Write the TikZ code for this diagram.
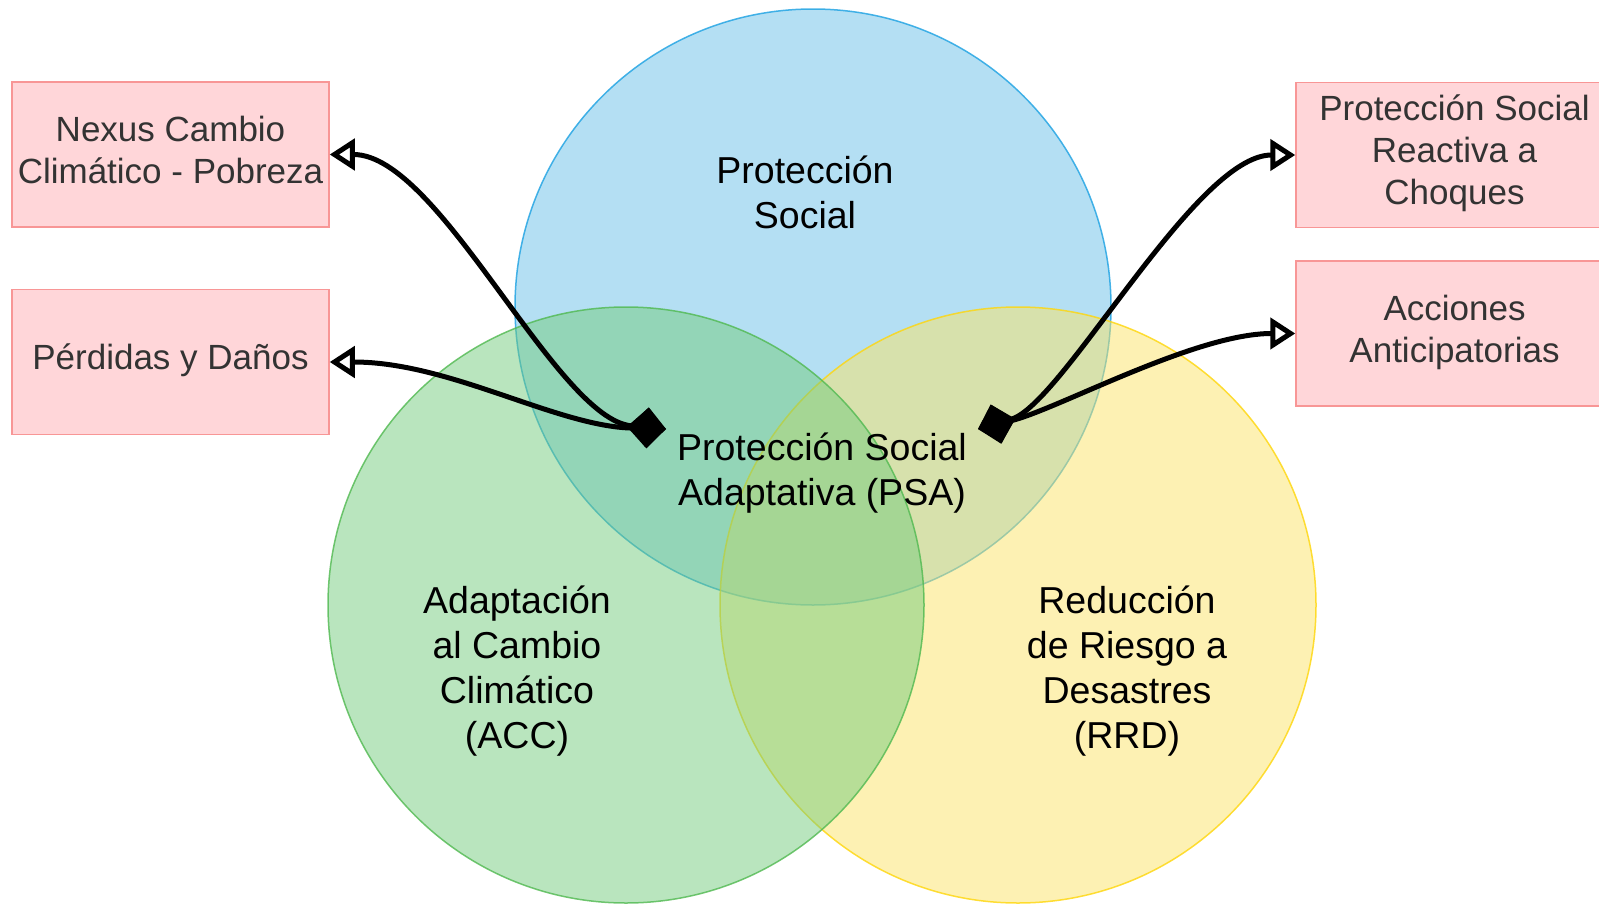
\documentclass[tikz,border=0pt]{standalone}
\usepackage{fontspec}
\setmainfont{Liberation Sans}
\usepackage{tikz}
\usetikzlibrary{arrows.meta,positioning}
\definecolor{psblue}{RGB}{105,191,231}
\definecolor{psblueline}{RGB}{27,161,226}
\definecolor{psgreen}{RGB}{115,203,125}
\definecolor{psgreenline}{RGB}{80,185,80}
\definecolor{psyellow}{RGB}{251,227,103}
\definecolor{psyellowline}{RGB}{255,214,10}
\definecolor{boxfill}{RGB}{255,214,217}
\definecolor{boxline}{RGB}{248,150,150}
\definecolor{boxtext}{RGB}{51,51,51}

\begin{document}
\begin{tikzpicture}[x=1pt,y=-1pt,
	area/.style={circle, minimum size=596pt, line width=1.5pt, fill opacity=0.5, draw opacity=0.8},
	topic/.style={draw=boxline, fill=boxfill, line width=1.5pt, inner sep=2pt, text depth=10pt, minimum width=317pt, minimum height=145pt, align=center, text=boxtext, font=\fontsize{35}{42}\selectfont},
	tag/.style={align=center, inner sep=2pt, font=\fontsize{37.5}{45}\selectfont},
	link/.style={line width=5pt, arrows={Diamond[length=38pt,width=40pt]-Triangle[open,length=25pt,width=31pt]}}]
		\useasboundingbox (0,0) rectangle (1599,905);
		\node at (813,307) [area, draw=psblueline, fill=psblue] (social) {};
		\node at (1018,605) [area, draw=psyellowline, fill=psyellow] (rrd) {};
		\node at (626,605) [area, draw=psgreenline, fill=psgreen] (acc) {};
		\node at (805,192) [tag] (socialtxt) {Protección\\Social};
		\node at (822,473) [tag] (psa) {Protección Social\\Adaptativa (PSA)};
		\node at (517,671) [tag] (acctxt) {Adaptación\\al Cambio\\Climático\\(ACC)};
		\node at (1127,671) [tag] (rrdtxt) {Reducción\\de Riesgo a\\Desastres\\(RRD)};
		\node at (170.5,154.5) [topic] (nexus) {Nexus Cambio\\Climático - Pobreza};
		\node [topic, below=61pt of nexus] (perdidas) {Pérdidas y Daños};
		\node at (1454.5,155) [topic] (reactiva) {Protección Social\\Reactiva a\\Choques};
		\node [topic, below=32pt of reactiva] (acciones) {Acciones\\Anticipatorias};
		\coordinate (psaL) at (666,429);
		\coordinate (psaR) at (978,429);
		\draw [link] (psaL) .. controls +(-110,-10) and +(110,0) .. (nexus.east);
		\draw [link] (psaL) .. controls +(-110,-3) and +(120,0) .. (perdidas.east);
		\draw [link] (psaR) .. controls +(85,-25) and +(-100,0) .. (reactiva.west);
		\draw [link] (psaR) .. controls +(80,-20) and +(-100,0) .. (acciones.west);
\end{tikzpicture}
\end{document}
